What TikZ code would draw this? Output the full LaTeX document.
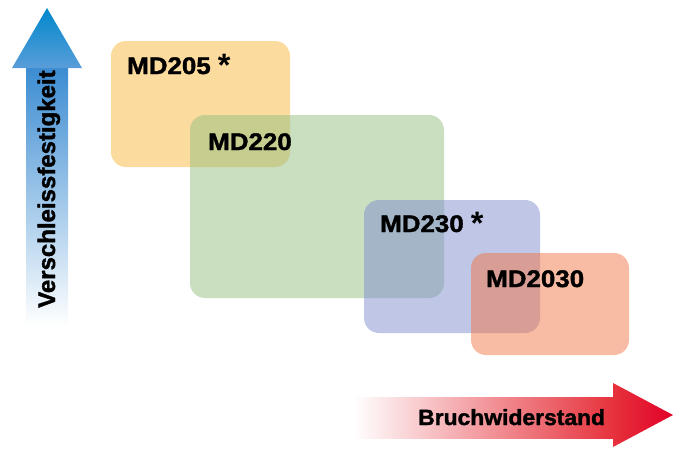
\documentclass[tikz,border=0pt]{standalone}
\usepackage{fontspec}
\setmainfont{Liberation Sans}
\newfontfamily\lblfont[FakeStretch=1.08,FakeBold=1.6]{Liberation Sans}
\newfontfamily\starfont{Liberation Sans}
\newfontfamily\axfont[FakeBold=1.6]{Liberation Sans}
\newfontfamily\axhfont[FakeStretch=1.04,FakeBold=1.6]{Liberation Sans}
\definecolor{orgC}{RGB}{247,183,61}
\definecolor{grnC}{RGB}{147,191,129}
\definecolor{bluC}{RGB}{127,141,205}
\definecolor{redC}{RGB}{241,119,71}
\definecolor{arrBlue}{RGB}{0,136,204}
\definecolor{shaftBlue}{RGB}{60,140,210}
\definecolor{arrRed}{RGB}{226,0,40}
\definecolor{shaftRed}{RGB}{230,50,60}
\tikzset{
  box/.style={fill=#1, fill opacity=0.5, rounded corners=15pt, draw=none},
  lbl/.style={anchor=base west, inner sep=0pt, font=\lblfont\bfseries\fontsize{24}{28}\selectfont, text=black},
}
\newcommand{\mystar}{\hspace{7pt}\raisebox{-2pt}{\scalebox{1.35}{\starfont\bfseries *}}}
\begin{document}
\begin{tikzpicture}[x=1pt,y=-1pt]
\useasboundingbox (0,0) rectangle (674,448);
% boxes
\path[box=orgC] (111,41) rectangle (290,167);
\path[box=grnC] (190,115) rectangle (444,298);
\path[box=bluC] (364,200) rectangle (540,333);
\path[box=redC] (471,253) rectangle (629,355);
% labels
\node[lbl] (l205) at (127,74) {MD205\mystar};
\node[lbl] (l220) at (208,150) {MD220};
\node[lbl] (l230) at (380,232) {MD230\mystar};
\node[lbl] (l2030) at (486,287) {MD2030};
% vertical arrow
\shade[top color=shaftBlue, bottom color=white] (26,68) rectangle (68,326);
\shade[top color=arrBlue, bottom color=shaftBlue!85] (12,68) -- (47,8) -- (82,68) -- cycle;
\node[anchor=base west, rotate=90, inner sep=0pt, font=\axfont\bfseries\fontsize{24}{28}\selectfont] (vt) at (55,308) {Verschleissfestigkeit};
% horizontal arrow
\shade[left color=white, right color=shaftRed] (353,397) rectangle (613.5,438);
\shade[left color=shaftRed, right color=arrRed] (613,383) -- (673,415) -- (613,447) -- cycle;
\node[anchor=base west, inner sep=0pt, font=\axhfont\bfseries\fontsize{22}{26}\selectfont] (ht) at (418,425) {Bruchwiderstand};
\end{tikzpicture}
\end{document}
